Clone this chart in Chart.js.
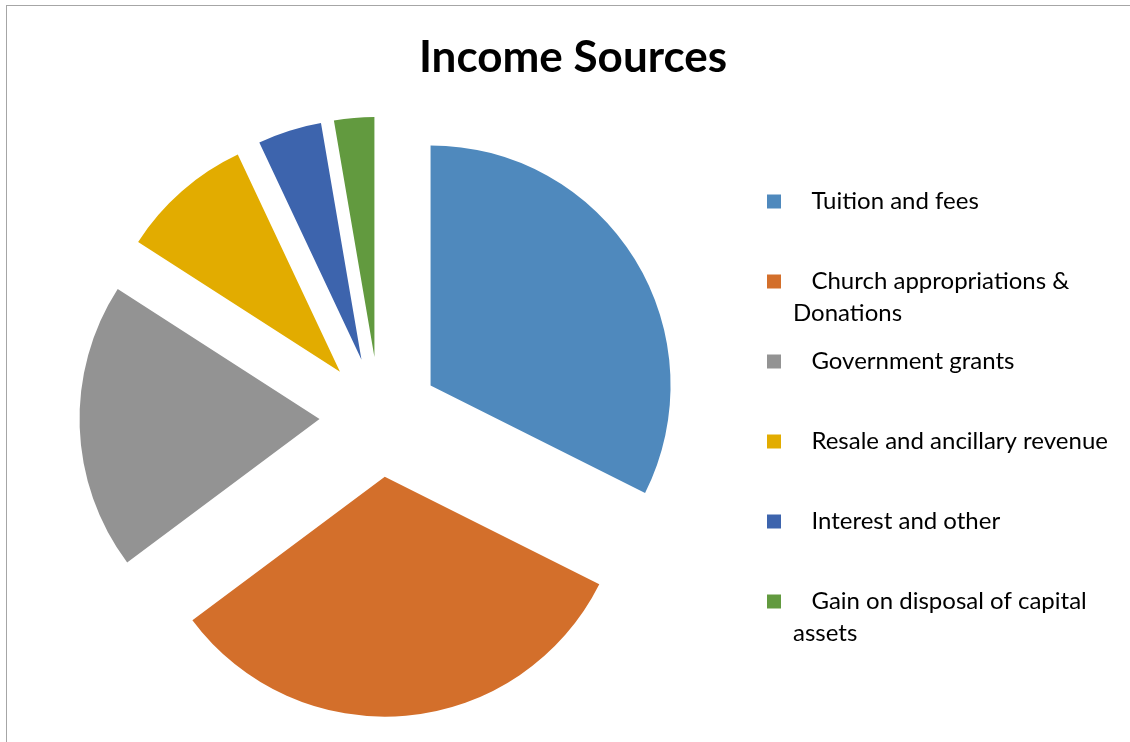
<!DOCTYPE html>
<html>
<head>
<meta charset="utf-8">
<title>Income Sources</title>
<script src="https://cdn.jsdelivr.net/npm/chart.js@4.4.1/dist/chart.umd.min.js"></script>
<style>
  html, body { margin: 0; padding: 0; background: #fff; }
  canvas { display: block; }
</style>
</head>
<body>
<canvas id="chart" width="1130" height="742"></canvas>
<script>
// ---------------- DATA ----------------
const categories = [
  "Tuition and fees",
  "Church appropriations & Donations",
  "Government grants",
  "Resale and ancillary revenue",
  "Interest and other",
  "Gain on disposal of capital assets"
];
// legend text, wrapped like the original
const legendLines = [
  ["Tuition and fees"],
  ["Church appropriations &", "Donations"],
  ["Government grants"],
  ["Resale and ancillary revenue"],
  ["Interest and other"],
  ["Gain on disposal of capital", "assets"]
];
// share of income, %
const shares = [32.4, 32.4, 19.3, 8.9, 4.3, 2.7];

// ---------------- STYLE ----------------
const colors = ["#4f89bd", "#d36f2b", "#939393", "#e2ac00", "#3d64ad", "#629a3f"];
const EXPLODE = 60;      // px every slice is pulled out
const INDENT = "   ";    // first legend line sits a bit further in
const LEGEND_W = 387;

Chart.defaults.font.family = "Lato";

// white page + thin grey frame
const frame = {
  id: "frame",
  beforeDraw(chart) {
    const c = chart.ctx;
    c.save();
    c.fillStyle = "#fff";
    c.fillRect(0, 0, chart.width, chart.height);
    c.strokeStyle = "#a6a6a6";
    c.lineWidth = 1;
    c.strokeRect(6.5, 5.5, chart.width + 20, chart.height + 20);
    c.restore();
  }
};

// fixed legend width so the pie sits where it does in the original
const legendWidth = {
  id: "legendWidth",
  beforeLayout(chart) {
    const lg = chart.legend;
    if (!lg || lg._fixedW) return;
    const fit = lg.fit;
    lg.fit = function () { fit.call(this); this.width = LEGEND_W; };
    lg._fixedW = true;
  }
};

// exploded pie: move each slice out along its middle angle
const explode = {
  id: "explode",
  beforeDatasetsDraw(chart) {
    const a = chart.chartArea;
    const cx = (a.left + a.right) / 2;
    const cy = (a.top + a.bottom) / 2;
    chart.getDatasetMeta(0).data.forEach(arc => {
      const mid = (arc.startAngle + arc.endAngle) / 2;
      arc.x = cx + Math.cos(mid) * EXPLODE;
      arc.y = cy + Math.sin(mid) * EXPLODE;
    });
  }
};

new Chart(document.getElementById("chart"), {
  type: "pie",
  data: {
    labels: categories,
    datasets: [{
      data: shares,
      backgroundColor: colors,
      borderWidth: 0,
      clip: false
    }]
  },
  options: {
    responsive: false,
    animation: false,
    events: [],
    radius: 240,
    layout: { padding: { left: 8, right: -8, top: 0, bottom: 0 } },
    plugins: {
      title: {
        display: true,
        text: "Income Sources",
        color: "#000",
        font: { family: "Lato", size: 44, weight: "bold", lineHeight: 1.2 },
        padding: { top: 31, bottom: 8 }
      },
      legend: {
        position: "right",
        align: "center",
        // empty title only pushes the items down
        title: { display: true, text: "", font: { size: 10, lineHeight: "101px" }, padding: 0 },
        labels: {
          boxWidth: 14,
          boxHeight: 14,
          padding: 16,
          font: { family: "Lato", size: 24, lineHeight: "32px" },
          generateLabels: () => legendLines.map((lines, i) => ({
            text: [INDENT + lines[0], lines[1] || ""],
            fillStyle: colors[i],
            strokeStyle: colors[i],
            lineWidth: 0,
            fontColor: "#000",
            hidden: false,
            index: i
          }))
        }
      },
      tooltip: { enabled: false }
    }
  },
  plugins: [frame, legendWidth, explode]
});
</script>
</body>
</html>
